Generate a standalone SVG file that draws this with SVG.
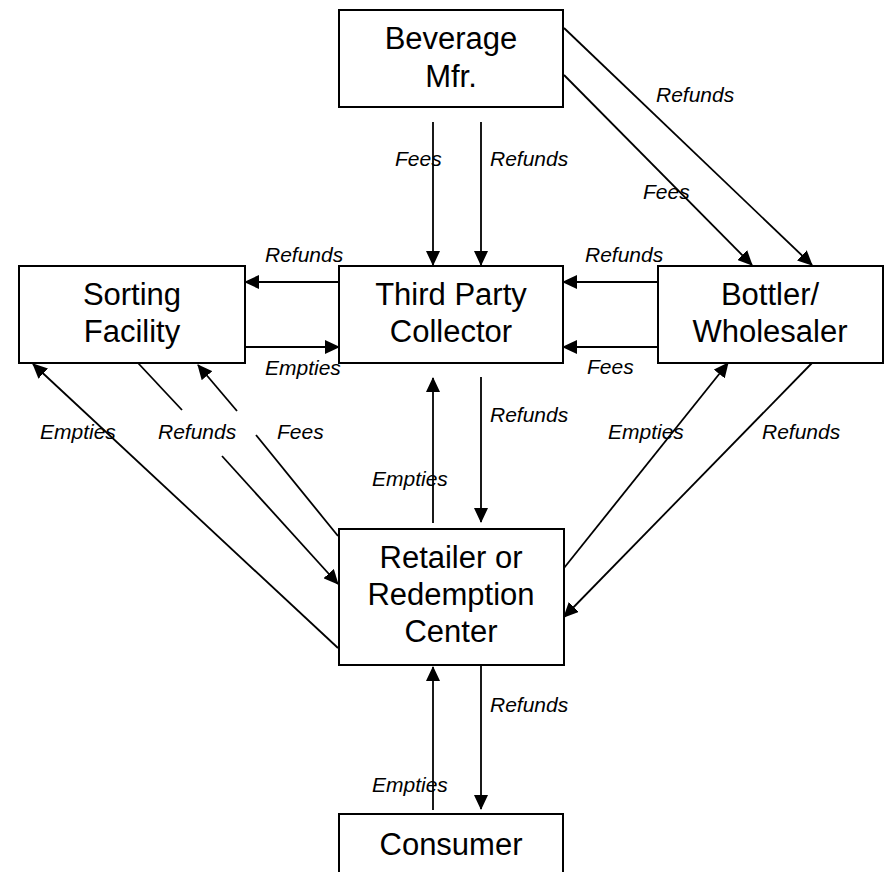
<svg xmlns="http://www.w3.org/2000/svg" width="892" height="872" viewBox="0 0 892 872">
<defs>
<marker id="ah" viewBox="0 0 15 14" refX="14" refY="7" markerWidth="15" markerHeight="14" markerUnits="userSpaceOnUse" orient="auto">
<path d="M0,0 L15,7 L0,14 Z" fill="#000"/>
</marker>
<style>
.box{fill:#fff;stroke:#000;stroke-width:2}
.bt{font-family:"Liberation Sans",Arial,sans-serif;font-size:31px;text-anchor:middle;fill:#000}
.lb{font-family:"Liberation Sans",Arial,sans-serif;font-size:21px;font-style:italic;fill:#000}
.c{stroke:#000;stroke-width:1.8;fill:none}
.a{marker-end:url(#ah)}
</style>
</defs>
<rect width="892" height="872" fill="#fff"/>
<g id="connectors">
<path class="c a" d="M433,122 L433,265"/>
<path class="c a" d="M481,122 L481,265"/>
<path class="c a" d="M564,28 L812,265"/>
<path class="c a" d="M564,75 L752,265"/>
<path class="c a" d="M339,282 L245,282"/>
<path class="c a" d="M245,347 L339,347"/>
<path class="c a" d="M658,282 L563,282"/>
<path class="c a" d="M658,347 L563,347"/>
<path class="c a" d="M433,523 L433,378"/>
<path class="c a" d="M481,377 L481,522"/>
<path class="c a" d="M338,648 L33,364"/>
<path class="c" d="M138,363 L182,410"/>
<path class="c a" d="M222,456 L338,584"/>
<path class="c" d="M338,536 L256,435"/>
<path class="c a" d="M237,411 L198,365"/>
<path class="c a" d="M564,568 L728,363"/>
<path class="c a" d="M812,363 L564,617"/>
<path class="c a" d="M481,665 L481,809"/>
<path class="c a" d="M433,810 L433,667"/>
</g>
<g id="labels">
<text class="lb" x="395" y="166">Fees</text>
<text class="lb" x="490" y="166">Refunds</text>
<text class="lb" x="656" y="102">Refunds</text>
<text class="lb" x="643" y="199">Fees</text>
<text class="lb" x="265" y="262">Refunds</text>
<text class="lb" x="265" y="375">Empties</text>
<text class="lb" x="585" y="262">Refunds</text>
<text class="lb" x="587" y="374">Fees</text>
<text class="lb" x="490" y="422">Refunds</text>
<text class="lb" x="372" y="486">Empties</text>
<text class="lb" x="40" y="439">Empties</text>
<text class="lb" x="158" y="439">Refunds</text>
<text class="lb" x="277" y="439">Fees</text>
<text class="lb" x="608" y="439">Empties</text>
<text class="lb" x="762" y="439">Refunds</text>
<text class="lb" x="490" y="712">Refunds</text>
<text class="lb" x="372" y="792">Empties</text>
</g>
<g id="beverage">
<rect class="box" x="339" y="10" width="224" height="97"/>
<text class="bt" x="451" y="49">Beverage</text>
<text class="bt" x="451" y="87">Mfr.</text>
</g>
<g id="sorting">
<rect class="box" x="19" y="266" width="226" height="97"/>
<text class="bt" x="132" y="305">Sorting</text>
<text class="bt" x="132" y="342">Facility</text>
</g>
<g id="collector">
<rect class="box" x="339" y="266" width="224" height="97"/>
<text class="bt" x="451" y="305">Third Party</text>
<text class="bt" x="451" y="342">Collector</text>
</g>
<g id="bottler">
<rect class="box" x="658" y="266" width="225" height="97"/>
<text class="bt" x="770" y="305">Bottler/</text>
<text class="bt" x="770" y="342">Wholesaler</text>
</g>
<g id="retailer">
<rect class="box" x="339" y="529" width="225" height="136"/>
<text class="bt" x="451" y="568">Retailer or</text>
<text class="bt" x="451" y="605">Redemption</text>
<text class="bt" x="451" y="642">Center</text>
</g>
<g id="consumer">
<rect class="box" x="339" y="814" width="224" height="100"/>
<text class="bt" x="451" y="855">Consumer</text>
</g>
</svg>
